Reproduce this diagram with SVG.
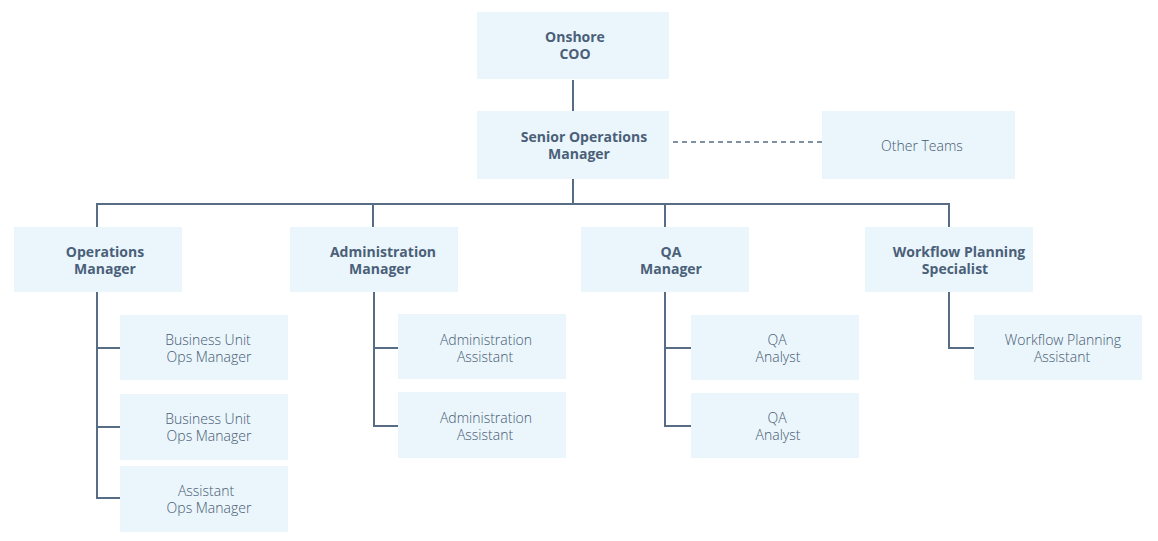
<svg xmlns="http://www.w3.org/2000/svg" width="1158" height="541" viewBox="0 0 1158 541">
<style>
.box{fill:#eaf5fc}
.b{font-family:"Open Sans","Liberation Sans",sans-serif;font-weight:700;font-size:14px;fill:#4a5f78;text-anchor:middle}
.l{font-family:"Open Sans","Liberation Sans",sans-serif;font-weight:300;font-size:14px;fill:#465a70;text-anchor:middle}
.c{fill:none;stroke:#566d85;stroke-width:2}
.d{fill:none;stroke:#566d85;stroke-width:1.5;stroke-dasharray:5 4}
</style>
<rect width="1158" height="541" fill="#ffffff"/>
<g id="connectors">
<path class="c" d="M573 80V111M573 179V204M97 227V204H949V227M373 204V227M665 204V227"/>
<path class="c" d="M97 292V498H120M97 348H120M97 427H120"/>
<path class="c" d="M374 292V426H398M374 348H398"/>
<path class="c" d="M665 292V426H691M665 348H691"/>
<path class="c" d="M949 292V348H974"/>
<path class="d" d="M673 142H822"/>
</g>
<g id="coo"><rect class="box" x="477" y="12" width="192" height="67"/><text class="b" x="575" y="42">Onshore</text><text class="b" x="575" y="59">COO</text></g>
<g id="senior"><rect class="box" x="477" y="111" width="192" height="68"/><text class="b" x="584" y="142">Senior Operations</text><text class="b" x="579" y="159">Manager</text></g>
<g id="other"><rect class="box" x="822" y="111" width="193" height="68"/><text class="l" x="922" y="151">Other Teams</text></g>
<g id="opsmgr"><rect class="box" x="14" y="227" width="168" height="65"/><text class="b" x="105" y="257">Operations</text><text class="b" x="105" y="274">Manager</text></g>
<g id="adminmgr"><rect class="box" x="290" y="227" width="168" height="65"/><text class="b" x="383" y="257">Administration</text><text class="b" x="380" y="274">Manager</text></g>
<g id="qamgr"><rect class="box" x="581" y="227" width="168" height="65"/><text class="b" x="671" y="257">QA</text><text class="b" x="671" y="274">Manager</text></g>
<g id="wfspec"><rect class="box" x="865" y="227" width="168" height="65"/><text class="b" x="959" y="257">Workflow Planning</text><text class="b" x="955" y="274">Specialist</text></g>
<g id="bu1"><rect class="box" x="120" y="315" width="168" height="65"/><text class="l" x="208" y="345">Business Unit</text><text class="l" x="209" y="362">Ops Manager</text></g>
<g id="bu2"><rect class="box" x="120" y="394" width="168" height="66"/><text class="l" x="208" y="424">Business Unit</text><text class="l" x="209" y="441">Ops Manager</text></g>
<g id="asst"><rect class="box" x="120" y="466" width="168" height="66"/><text class="l" x="206" y="496">Assistant</text><text class="l" x="209" y="513">Ops Manager</text></g>
<g id="aa1"><rect class="box" x="398" y="314" width="168" height="65"/><text class="l" x="486" y="344.5">Administration</text><text class="l" x="485" y="361.5">Assistant</text></g>
<g id="aa2"><rect class="box" x="398" y="392" width="168" height="66"/><text class="l" x="486" y="422.5">Administration</text><text class="l" x="485" y="439.5">Assistant</text></g>
<g id="qa1"><rect class="box" x="691" y="315" width="168" height="65"/><text class="l" x="777" y="345">QA</text><text class="l" x="778" y="362">Analyst</text></g>
<g id="qa2"><rect class="box" x="691" y="393" width="168" height="65"/><text class="l" x="777" y="423">QA</text><text class="l" x="778" y="440">Analyst</text></g>
<g id="wfa"><rect class="box" x="974" y="315" width="168" height="65"/><text class="l" x="1063" y="344.5">Workflow Planning</text><text class="l" x="1062" y="361.5">Assistant</text></g>
</svg>
